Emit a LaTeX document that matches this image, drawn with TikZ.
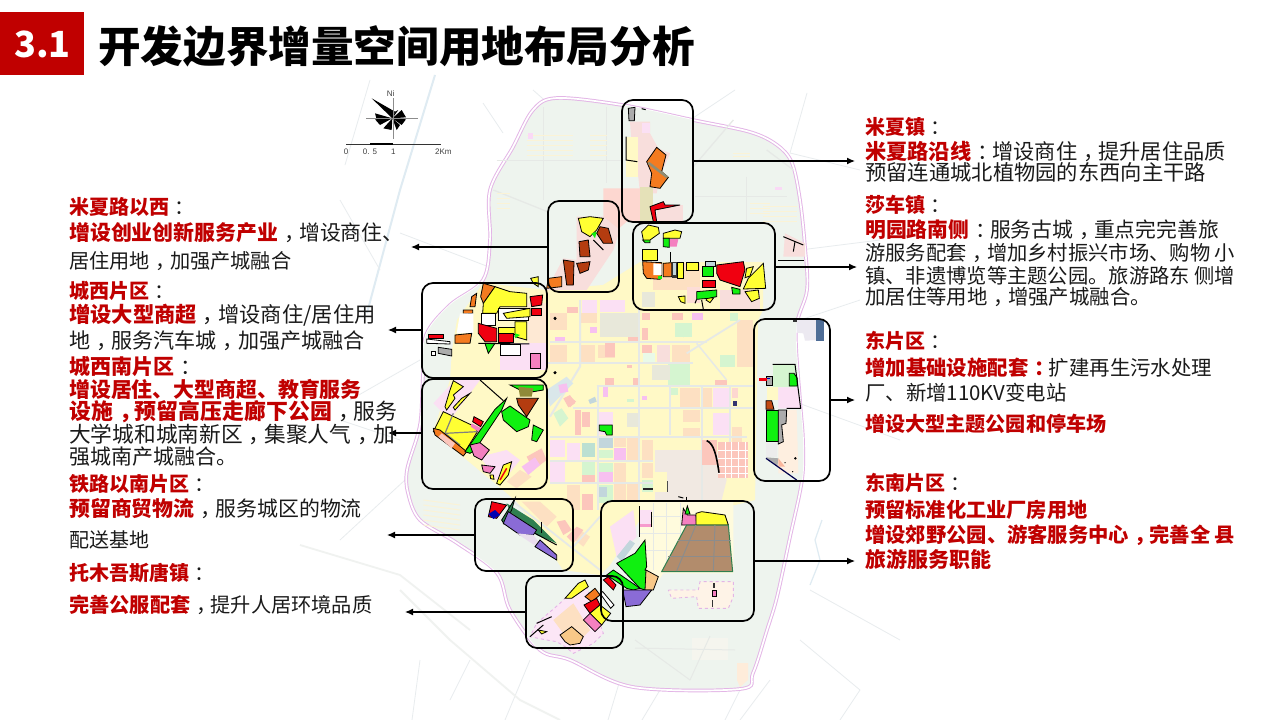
\documentclass[tikz,border=0pt]{standalone}
\usepackage{fontspec}
\setmainfont{Noto Sans CJK SC}
\newfontfamily\latinf{Liberation Sans}
\usetikzlibrary{arrows.meta}
\definecolor{hred}{HTML}{C00000}
\definecolor{txtc}{HTML}{1A1A1A}
\definecolor{land}{HTML}{EEF4EE}
\definecolor{base}{HTML}{FFF9C6}
\definecolor{road}{HTML}{E6E9E6}
\definecolor{faint}{HTML}{E8ECEE}
\definecolor{riv}{HTML}{DFEBF2}
\definecolor{bnd}{HTML}{E3B5E6}
\definecolor{py}{HTML}{FDE0C2}
\definecolor{sa}{HTML}{FCC6BC}
\definecolor{li}{HTML}{FBE0F4}
\definecolor{lt}{HTML}{F7C0F0}
\definecolor{mi}{HTML}{D5F5D0}
\definecolor{gy}{HTML}{E8E8DA}
\definecolor{te}{HTML}{BCE0D2}
\definecolor{bl}{HTML}{C2D6DC}
\definecolor{pal}{HTML}{F8DEDC}
\definecolor{be}{HTML}{F1E9E2}
\definecolor{vy}{HTML}{FFFF33}
\definecolor{vo}{HTML}{F47B20}
\definecolor{vb}{HTML}{B43C10}
\definecolor{vg}{HTML}{10F010}
\definecolor{vr}{HTML}{F00010}
\definecolor{vp}{HTML}{8A6BD6}
\definecolor{vk}{HTML}{F480C0}
\definecolor{br}{HTML}{B28C6C}
\definecolor{dg}{HTML}{2F7F50}
\definecolor{slate}{HTML}{4F6D96}
\definecolor{gr}{HTML}{ACACAC}
\definecolor{pc}{HTML}{F8C888}
\definecolor{cream}{HTML}{FBF3D6}
\tikzset{
 regbox/.style={draw=black,line width=1.7pt,rounded corners=11pt,inner sep=0pt},
 arr/.style={draw=black,line width=1.2pt,-{Latex[length=8pt,width=7pt]}},
 tline/.style={anchor=west,inner sep=0pt,text height=18pt,text depth=3pt,text=txtc,font=\fontsize{20.8}{24}\selectfont},
 fz/.style={font=\fontsize{#1}{24}\selectfont},
 scl/.style={inner sep=0pt,text=black!75,font=\latinf\fontsize{8}{9}\selectfont},
 fl/.style={draw=faint,line width=0.8pt},
}
\newcommand\rr[5]{\fill[#1] (#2,#3) rectangle (#4,#5);}
\newcommand\pp[2]{\fill[#1] plot coordinates {#2} -- cycle;}
\newcommand\pq[2]{\filldraw[fill=#1,draw=black,line width=0.8pt] plot coordinates {#2} -- cycle;}
\newcommand\bln[1]{\draw[black,line width=1pt] plot coordinates {#1};}
\newcommand\hdr[1]{\textcolor{hred}{\bfseries #1}}
\newcommand\cm{\makebox[1em][l]{\hspace{.28em}，}}
\newcommand\cl{\makebox[1em][l]{\hspace{.28em}：}}
\newcommand\bndpts{(557,98)(622,105)(693,120)(750,132)(777,145)(792,163)(800,200)(805,247)(807,290)(796,330)(800,400)(803,440)(802,480)(790,537)(777,597)(767,630)(753,673)(740,689)(633,687)(570,660)(540,650)(510,610)(497,573)(457,543)(420,520)(408,493)(407,470)(417,437)(421,417)(423,375)(426,335)(450,305)(483,280)(490,240)(490,190)(513,147)(533,110)}
\newcommand\basepts{(483,283)(547,290)(603,285)(640,262)(763,262)(763,310)(758,320)(755,500)(735,505)(650,505)(610,565)(600,575)(563,570)(517,502)(497,485)(433,432)(450,380)(452,350)(457,320)}
\begin{document}
\begin{tikzpicture}[x=1pt,y=-1pt]
\useasboundingbox (0,0) rectangle (1280,720);
\fill[white] (0,0) rectangle (1280,720);
% outer faint roads and rivers
\draw[riv,line width=2pt] (435,75)--(400,190)--(367,313);
\foreach \xa/\ya/\xb/\yb in {370/80/345/165,400/233/497/270,483/103/503/133,533/90/550/105,807/93/790/153,790/153/860/170,735/90/690/120,800/250/880/240,790/400/900/440,400/440/340/420,380/270/340/200,405/480/340/540,350/400/420/360,420/660/412/720,470/660/450/700,530/660/505/720,620/680/608/720,660/690/642/720,725/720/740/690,770/680/740/720,800/640/860/690,860/690/840/720,810/590/900/640,800/320/860/300}
  {\draw[fl] (\xa,\ya)--(\xb,\yb);}
\draw[road!60!white,line width=1.8pt] (400,590)--(450,640)--(520,700)--(560,720);
\draw[road!60!white,line width=1.8pt] (300,545)--(400,575)--(470,630);
\draw[riv,line width=1.2pt] (810,585)--(820,560)--(815,540)--(822,520);
% map boundary and land
\path[fill=land] plot[smooth cycle,tension=0.55] coordinates {\bndpts};
\draw[bnd,line width=3.6pt] plot[smooth cycle,tension=0.55] coordinates {\bndpts};
\draw[white,line width=1.7pt] plot[smooth cycle,tension=0.55] coordinates {\bndpts};
\fill[gy!45] (692,638) rectangle (728,660);
\pp{py!60}{(737,663)(748,663)(748,680)(740,687)(737,680)}
\draw[road,line width=1pt] (635,640)--(690,680);\draw[road,line width=1pt] (635,648)--(735,650);\draw[road,line width=1pt] (710,636)--(690,680);
% land texture, north
\begin{scope}[shift={(400,90)},scale=1/3]
\foreach \xa/\ya/\xb/\yb in {290/212/680/212,885/320/1160/320,1040/260/1040/500,430/50/430/330,620/50/620/280,280/300/480/380,880/230/1000/90,1100/180/1180/240}{\draw[road,line width=1.3pt] (\xa,\ya)--(\xb,\yb);}
\foreach \y in {135,150,165,180,195}{\draw[cream,line width=1pt] (570,\y)--(620,\y);\draw[cream,line width=1pt] (380,\y)--(520,\y);}
\foreach \y in {350,365,380,395}{\draw[cream,line width=1pt] (1090,\y)--(1190,\y);\draw[cream,line width=1pt] (290,\y-40)--(330,\y-40);}
\foreach \y in {190,200,210}{\draw[cream,line width=1pt] (1000,\y)--(1050,\y);}
\foreach \y in {280,295,310}{\draw[cream,line width=1pt] (1050,\y+60)--(1110,\y+60);}
\rr{lt!60}{385}{128}{400}{146}\rr{lt!60}{840}{240}{870}{260}\rr{lt!60}{1125}{290}{1145}{300}
\end{scope}
% land texture, south
\begin{scope}[shift={(400,370)},scale=1/3]
\foreach \y in {390,405,420,435,450,465}{\draw[cream,line width=1pt] (70,\y)--(180,\y+15);}
\foreach \y in {535,550,565,580}{\draw[cream,line width=1pt] (300,\y)--(400,\y+10);}
\end{scope}
% urban base
\fill[base] plot coordinates {\basepts} -- cycle;
\begin{scope}[shift={(540,300)},scale=1/3]
\pp{be}{(345,450)(530,450)(560,540)(545,600)(345,600)}
\rr{py}{30}{40}{80}{90}\rr{sa}{80}{20}{115}{40}\rr{li}{125}{0}{170}{40}\rr{li}{180}{0}{255}{35}
\rr{gy}{180}{40}{295}{110}\rr{py}{120}{40}{170}{70}\rr{lt}{150}{80}{170}{100}\rr{sa}{265}{110}{298}{130}
\rr{sa}{305}{85}{325}{120}\rr{sa}{305}{135}{335}{160}\rr{py}{395}{135}{450}{190}\rr{pal}{350}{135}{390}{190}
\rr{mi!50}{310}{160}{345}{190}\rr{mi}{385}{190}{450}{255}\rr{gy}{335}{195}{390}{240}\rr{mi}{405}{70}{455}{110}
\rr{py}{120}{135}{165}{185}\rr{py}{175}{135}{225}{175}\rr{sa}{195}{130}{225}{170}\rr{lt}{45}{110}{75}{130}
\rr{py}{30}{135}{80}{190}\rr{sa}{195}{235}{222}{255}\rr{sa}{260}{195}{275}{205}\rr{sa}{280}{235}{298}{255}
\rr{sa}{395}{40}{430}{60}\rr{sa}{305}{40}{330}{60}\rr{lt}{455}{40}{490}{60}\rr{mi}{570}{40}{595}{62}
\rr{py}{590}{60}{640}{200}\rr{mi}{540}{165}{585}{200}\rr{sa}{525}{240}{560}{258}
\rr{py}{420}{265}{480}{320}\rr{py}{488}{265}{515}{320}\rr{li}{520}{265}{570}{325}\rr{sa!70}{575}{265}{595}{295}
\rr{lt}{190}{262}{205}{290}\rr{mi}{390}{265}{415}{285}\rr{lt}{305}{288}{322}{300}\rr{mi}{262}{296}{282}{306}
\rr{sa}{105}{330}{122}{405}\rr{sa}{125}{335}{150}{380}\rr{li}{172}{335}{220}{405}\rr{gy}{262}{340}{298}{380}
\rr{py}{430}{330}{480}{365}\rr{py}{430}{385}{480}{410}\rr{li}{520}{340}{570}{405}\rr{py}{575}{380}{605}{440}
\rr{li}{30}{420}{75}{470}\rr{te}{125}{430}{165}{470}\rr{bl}{178}{415}{220}{445}\rr{mi}{178}{450}{218}{475}
\rr{lt}{222}{445}{258}{480}\rr{py}{222}{415}{258}{440}\rr{py}{262}{415}{298}{480}\rr{py}{305}{420}{340}{480}
\rr{py}{305}{490}{340}{535}\rr{mi}{125}{480}{165}{525}\rr{sa}{125}{525}{165}{545}\rr{mi}{172}{490}{218}{515}
\rr{lt}{172}{517}{218}{545}\rr{py}{222}{490}{258}{545}\rr{li}{80}{430}{120}{480}\rr{li}{30}{480}{75}{545}
\rr{sa}{125}{582}{160}{630}\rr{mi}{172}{555}{218}{610}\rr{bl}{178}{560}{200}{590}\rr{py}{222}{550}{258}{600}\rr{py}{262}{545}{295}{600}
\rr{mi}{305}{540}{340}{575}\rr{base}{345}{515}{380}{575}\rr{py}{80}{555}{120}{630}
\pp{bl}{(145,300)(165,290)(170,305)(150,312)}
\pp{lt}{(52,262)(68,252)(80,265)(64,278)}\pp{sa}{(75,300)(90,288)(108,305)(90,322)}\pp{mi}{(40,340)(65,325)(85,355)(60,380)}
\pp{mi}{(418,92)(445,72)(455,95)(430,112)}
\draw[road,line width=2pt] (120,0)--(120,200)--(30,350);
\foreach \x/\ya/\yb in {175/260/630,298/0/630,390/260/405,485/260/600,570/258/440}{\draw[road,line width=1.8pt] (\x,\ya)--(\x,\yb);}
\foreach \y/\xa/\xb in {125/30/500,190/20/460,258/170/640,325/100/640,410/30/620,482/30/340,548/30/340}{\draw[road,line width=1.8pt] (\xa,\y)--(\xb,\y);}
\draw[road,line width=1.8pt] (440,160)--(600,60);\draw[road,line width=1.5pt] (470,130)--(560,240);
\rr{sa}{485}{420}{530}{495}
\rr{sa}{535}{425}{625}{535}
\foreach \x in {555,575,595,615}{\draw[white,line width=1pt] (\x,425)--(\x,535);}
\foreach \y in {450,475,500,520}{\draw[white,line width=1pt] (535,\y)--(625,\y);}
\pq{vg}{(178,375)(217,375)(217,405)(200,405)(195,395)(178,392)}
\rr{black!85}{310}{565}{338}{571}\rr{black!70}{381}{542}{385}{575}
\rr{blue!30!black!80}{578}{302}{590}{318}
\draw[black,line width=1.6pt] (500,422) .. controls (522,430) and (530,470) .. (537,518);
\fill[black] (45,55) circle (5);\fill[black] (45,218) circle (5);
\end{scope}
% repaint the ground inside the region frames
\foreach \xa/\ya/\xb/\yb in {622/100/693/222,548/201/619/292,633/223/775/310,422/283/547/378,422/379/547/489,754/319/830/481,475/499/573/571,601/501/754/621,526/576/623/648}{
\begin{scope}
\clip[rounded corners=11pt] (\xa,\ya) rectangle (\xb,\yb);
\fill[land] plot[smooth cycle,tension=0.55] coordinates {\bndpts};
\fill[base] plot coordinates {\basepts} -- cycle;
\end{scope}}
% northern zoom
\begin{scope}[shift={(400,90)},scale=1/3]
\pp{pal}{(690,95)(750,95)(750,130)(775,175)(810,190)(780,260)(770,310)(720,310)(715,260)(700,240)}
\rr{li}{725}{100}{750}{130}
\rr{base}{678}{140}{715}{260}
\pp{sa!70}{(610,295)(720,295)(720,395)(680,395)(640,430)(610,385)}
\rr{base!80!gray}{720}{290}{760}{395}
\rr{pal}{770}{345}{850}{395}
\pp{pal}{(530,380)(610,380)(660,420)(640,480)(560,600)(440,600)(490,505)(530,510)}
\rr{gy}{725}{605}{765}{650}
\rr{py}{760}{520}{900}{600}\rr{sa!60}{860}{590}{900}{640}\rr{pal}{960}{600}{1080}{660}
\pp{pal}{(1155,430)(1215,460)(1215,500)(1150,500)}
% A
\pq{gr}{(685,55)(705,52)(703,92)(687,92)}
\bln{(678,140)(678,210)(712,215)}\bln{(725,56)(737,59)}
\pq{vo}{(740,215)(770,172)(798,195)(785,245)(805,262)(780,295)(750,290)(755,250)}
\draw[gray!80!olive,line width=2.5pt] (745,218)--(802,262);
\pq{vr}{(750,350)(790,335)(795,345)(840,345)(790,355)(765,360)(770,395)(760,395)}
% B
\pq{vy}{(535,385)(570,380)(610,385)(590,420)(570,440)(545,425)}
\pq{vb}{(600,410)(625,415)(638,460)(610,460)(590,430)}
\pq{vb}{(537,455)(565,450)(570,500)(540,500)}
\pq{vb}{(530,520)(570,515)(565,540)(540,550)}
\pq{vb}{(490,510)(522,515)(520,585)(500,585)}
\pq{vo}{(445,565)(485,560)(485,590)(440,595)}
\pp{vg}{(575,430)(590,425)(585,445)}
\bln{(580,450)(610,480)}
% C
\pq{vg}{(728,450)(750,445)(750,458)(735,458)}
\pq{vy}{(725,425)(745,405)(775,412)(778,430)(750,450)(730,450)}
\pq{vy}{(790,430)(825,420)(845,425)(840,445)(790,445)}
\pq{vg}{(790,445)(808,445)(808,472)(790,470)}
\pp{vk}{(810,447)(835,447)(830,470)(810,470)}
\pq{vy}{(728,478)(772,478)(772,512)(728,512)}
\pq{vo}{(728,515)(785,518)(785,555)(780,568)(740,565)(730,550)}
\pp{white}{(760,520)(785,522)(785,555)(760,555)}
\pp{vg}{(775,558)(785,558)(785,568)(775,568)}
\pq{vo}{(790,520)(815,518)(815,560)(790,560)}
\rr{black!80}{815}{515}{832}{565}\rr{bl}{820}{520}{827}{555}
\pq{vy}{(832,518)(850,518)(850,565)(832,565)}
\pq{vy}{(860,518)(895,518)(895,540)(860,540)}
\pq{bl}{(915,515)(945,515)(945,530)(915,530)}
\pq{vg}{(908,530)(940,530)(940,560)(908,560)}
\pq{vr}{(950,525)(1030,515)(1035,540)(1020,590)(960,570)(950,550)}
\pq{vy}{(1090,520)(1097,595)(1030,597)(1045,565)}
\pq{vy}{(1040,535)(1060,530)(1050,558)(1035,563)}
\pq{vy}{(1035,605)(1075,600)(1078,625)(1055,635)}
\pq{vr}{(908,570)(945,570)(945,592)(908,592)}
\pq{vy}{(925,620)(940,625)(930,638)(918,630)}
\pq{vg}{(890,605)(950,600)(950,620)(925,625)(890,628)}
\pq{vg}{(995,592)(1020,598)(1020,612)(998,612)}
\pq{vy}{(835,620)(855,618)(855,640)(842,635)}
\bln{(890,628)(885,640)}\bln{(905,630)(910,658)}\bln{(810,487)(810,515)}
\bln{(1150,440)(1210,465)}\bln{(1185,455)(1180,485)}\bln{(1135,510)(1212,510)}
% D
\pp{li}{(300,760)(440,760)(440,840)(300,840)}
\rr{py!70}{385}{640}{440}{760}
\pq{vo}{(250,580)(285,590)(250,640)(242,620)}
\pq{vy}{(285,590)(330,605)(380,610)(380,650)(300,650)(290,670)(248,670)(250,640)}
\pq{white}{(295,655)(385,655)(385,690)(295,690)}
\pq{vy}{(310,670)(390,655)(390,680)(320,685)}
\pq{vr}{(390,620)(428,615)(425,645)(395,650)}
\pq{vr}{(395,655)(425,655)(425,675)(395,675)}
\pq{white}{(245,670)(285,670)(285,705)(245,705)}
\pq{vy}{(295,712)(345,712)(345,732)(295,732)}
\pq{vy}{(345,695)(380,695)(380,750)(345,740)}
\pq{vr}{(235,700)(290,715)(290,755)(255,755)(235,730)}
\pq{vr}{(295,730)(340,730)(340,758)(295,758)}
\pp{vg}{(345,730)(360,735)(345,745)}
\pq{vg}{(255,760)(285,760)(265,790)}
\pq{white}{(300,762)(360,762)(360,795)(300,795)}
\bln{(235,760)(388,762)}
\pq{vk}{(390,790)(420,790)(420,835)(390,835)}
\pq{vo}{(215,620)(230,610)(225,650)(210,650)}
\pq{vo}{(190,660)(218,660)(218,670)(190,672)}
\pp{white}{(180,670)(220,670)(220,730)(170,730)}
\pq{vo}{(165,735)(215,730)(210,760)(165,760)}
\pq{vr}{(85,733)(130,733)(130,745)(85,745)}
\pq{white}{(80,747)(150,755)(150,762)(80,760)}
\pq{gr}{(115,772)(155,778)(155,798)(115,790)}
\pq{white}{(95,785)(105,785)(105,795)(95,795)}
\pq{vy}{(392,565)(415,560)(415,590)(400,580)}
\fill[black] (465,687) circle (3);
\end{scope}
% southern zoom
\begin{scope}[shift={(400,370)},scale=1/3]
\pp{li}{(165,30)(240,30)(150,150)(100,100)}
\pp{li}{(240,260)(320,240)(360,270)(300,345)}
\pp{sa}{(380,260)(425,235)(440,270)(400,300)}
\pp{lt}{(365,290)(405,262)(420,285)(385,315)}
\pp{py}{(320,335)(360,300)(395,320)(350,355)}
\pp{bl!60}{(440,60)(500,20)(520,40)(450,110)}
\pp{sa}{(490,85)(510,75)(525,100)(505,112)}
\pp{lt}{(475,45)(500,40)(505,65)(480,70)}
\pp{sa}{(470,455)(495,450)(515,480)(490,495)}
\pp{py}{(365,395)(420,395)(470,440)(440,470)}
\pp{py}{(540,480)(570,500)(550,530)(525,510)}
\pp{sa}{(500,500)(530,470)(550,480)(520,520)}
\pp{li}{(630,470)(700,420)(710,500)(650,560)}
\pp{bl}{(650,560)(690,510)(705,520)(665,575)}
\draw[road,line width=1.8pt] (340,395)--(600,600);\draw[road,line width=1.8pt] (520,530)--(600,440);
\pp{base!60}{(720,510)(720,395)(1000,395)(1000,610)(790,610)(770,640)(735,660)(720,620)}
\foreach \x in {760,800,840}{\draw[road,line width=1pt] (\x,400)--(\x,600);}
\foreach \y in {440,490,540}{\draw[road,line width=1pt] (720,\y)--(860,\y);}
% E
\pq{vy}{(150,60)(160,32)(190,50)(160,75)(165,85)(140,120)(135,110)}
\pq{vy}{(185,85)(210,70)(165,120)(160,112)}
\bln{(240,30)(310,92)}
\pq{vy}{(130,125)(225,170)(232,185)(195,245)(100,185)}
\draw[gray,line width=1.2pt] (160,130)--(135,190)--(180,225);\draw[gray,line width=1.2pt] (135,190)--(232,185);
\pq{vo}{(100,175)(120,180)(200,245)(190,258)(105,195)}
\pp{sa}{(125,190)(165,220)(155,235)(115,200)}
\pq{vr}{(222,140)(250,155)(242,170)(218,155)}
\pp{vk}{(215,160)(245,175)(235,185)(212,170)}
\pq{vg}{(195,245)(285,118)(310,95)(320,85)(305,120)(225,240)(210,250)}
\pq{vk}{(210,225)(240,218)(268,240)(245,270)(222,258)}
\pq{vk}{(245,285)(285,290)(270,310)(250,305)}
\pq{vy}{(270,315)(280,315)(282,328)(272,326)}
\pq{vy}{(290,340)(310,285)(335,275)(325,315)(300,345)}
\draw[vr,line width=1.5pt] (300,330)--(320,295);
\pq{vg}{(330,45)(430,45)(430,60)(400,65)(360,60)}
\pp{olive!60!gray}{(355,50)(400,55)(395,80)(360,80)}
\pq{vb}{(350,85)(415,85)(380,140)(355,105)}
\pq{vg}{(305,125)(330,108)(390,150)(385,170)(350,185)(310,150)}
\pq{vg}{(400,165)(430,180)(410,215)(395,210)}
\fill[black] (464,8) circle (3);
% G
\pq{vr}{(275,395)(320,405)(290,445)(265,440)}
\pp{blue!70!black}{(265,432)(285,420)(300,435)(280,447)}
\pp{dg}{(320,400)(400,450)(470,520)(410,495)(330,425)}
\pq{dg}{(345,385)(335,420)(312,462)(305,450)(330,410)}
\pq{vp}{(325,425)(410,480)(400,495)(360,495)(310,460)}
\pp{li!70!bl}{(350,490)(400,495)(430,535)(410,530)}
\pq{vp}{(420,510)(470,555)(470,570)(405,530)}
\bln{(405,490)(470,525)}\bln{(425,455)(425,490)}
% H
\pq{vk}{(850,415)(845,465)(890,465)(888,435)(862,435)}
\pq{vg}{(855,432)(862,408)(870,432)}
\pq{vy}{(888,430)(905,425)(940,430)(975,435)(985,465)(888,465)}
\filldraw[fill=br,draw=dg,line width=1pt] plot coordinates {(860,465)(985,465)(998,605)(785,605)} -- cycle;
\foreach \xa/\ya/\xb/\yb in {835/510/992/510,805/560/996/560,888/465/830/603,945/465/940/603}{\draw[gray!90,line width=1pt] (\xa,\ya)--(\xb,\yb);}
\pq{vg}{(650,580)(705,550)(735,510)(740,590)(735,600)(770,620)(735,660)(720,655)}
\pq{pc}{(738,600)(775,620)(760,660)(735,660)}
\pq{vg}{(620,615)(640,600)(720,655)(700,660)(680,655)}
\pq{vr}{(610,630)(625,620)(648,645)(640,660)}
\pq{vp}{(668,660)(755,660)(720,705)(678,710)}
\rr{li}{720}{420}{757}{470}\rr{vk!80}{720}{462}{755}{470}
\bln{(719,408)(719,500)}\bln{(755,425)(755,470)}
\bln{(835,380)(850,384)}\bln{(860,380)(860,395)}
\draw[bnd,dashed,line width=0.9pt,fill=py!40] plot coordinates {(805,660)(895,660)(900,635)(1000,635)(1000,680)(985,715)(895,715)(890,680)(815,685)} -- cycle;
\pq{vk}{(938,660)(950,660)(950,680)(938,680)}\rr{black!80}{938}{640}{946}{655}\rr{black!80}{935}{690}{940}{712}
% I
\draw[bnd,dashed,line width=0.9pt,fill=li!80] plot coordinates {(410,760)(480,700)(540,640)(560,650)(610,790)(580,820)(520,850)(495,830)(470,815)(440,810)(390,800)} -- cycle;
\pp{py}{(460,750)(520,700)(570,780)(520,830)}
\pq{vy}{(495,685)(535,640)(555,630)(565,650)(515,685)}
\pq{vo}{(555,680)(585,655)(600,675)(575,695)}
\pq{white}{(600,670)(608,665)(642,705)(632,715)}
\pq{vr}{(552,705)(590,685)(600,705)(570,730)}
\pq{vy}{(570,730)(600,705)(632,730)(605,765)}
\pq{vk}{(550,750)(570,730)(605,765)(585,785)}
\pq{pc}{(480,795)(515,770)(550,800)(540,820)(510,825)(495,815)}
\bln{(410,760)(455,740)}\bln{(390,800)(430,765)}
\pq{vy}{(415,780)(440,785)(425,792)}
\end{scope}
% F
\begin{scope}[shift={(750,310)},scale=1/3]
\pp{li!50!bl!60}{(140,30)(220,30)(220,90)(165,92)(160,70)(140,68)}
\filldraw[fill=slate,draw=slate] (198,28) rectangle (220,92);
\fill[black!80] (128,26) rectangle (140,36);
\rr{mi}{68}{163}{135}{230}
\pq{vg}{(118,190)(132,190)(142,205)(142,228)(118,228)}
\rr{base}{50}{232}{85}{270}
\pp{li}{(85,232)(143,232)(152,295)(85,295)}
\bln{(68,163)(135,163)(152,295)(110,295)}
\pq{gr}{(48,200)(68,200)(68,225)(48,225)}
\pp{vr}{(28,203)(50,203)(50,213)(28,213)}\pp{blue!70!black}{(50,203)(60,203)(60,208)(50,208)}
\pp{py!50}{(85,300)(140,300)(145,490)(85,490)}
\pq{vb!80!vo}{(48,272)(65,272)(72,298)(48,298)}
\pq{vg}{(48,300)(85,300)(85,395)(48,395)}
\pq{gr}{(85,300)(110,300)(108,340)(95,345)(100,395)(85,402)}
\rr{white!85!gray}{48}{398}{82}{440}
\pp{gr}{(48,442)(85,445)(82,470)}
\pp{sa!80!vo}{(85,445)(105,470)(85,470)}
\draw[black!70!blue,line width=1.2pt] (48,445)--(140,510);
\fill[black] (136,445) circle (4);\fill[black] (105,458) circle (2);\fill[black] (128,485) circle (2);
\end{scope}
% compass and scale
\begin{scope}[shift={(330,80)},scale=1/3]
\coordinate (ctr) at (187,115);
\foreach \xa/\ya/\xb/\yb in {125/55/195/95,135/100/140/118,215/90/228/112,228/118/215/135,185/150/160/145,200/150/210/135,195/95/205/90,150/135/135/118}{\fill[black] (ctr)--(\xa,\ya)--(\xb,\yb)--cycle;}
\draw[black!45,line width=0.5pt] (108,115)--(265,115);\draw[black!45,line width=0.5pt] (190,55)--(190,178);
\draw[black!80,line width=0.9pt] (48,193)--(332,193);
\draw[black,line width=1.5pt] (120,192)--(190,192);
\node[scl] (nn) at (182,40) {Ni};
\node[scl] (s0) at (48,216) {0};
\node[scl] (s5) at (120,216) {0. 5};
\node[scl] (s1) at (190,216) {1};
\node[scl] (s2) at (340,216) {2Km};
\end{scope}
% region boxes
\node[regbox,minimum width=71pt,minimum height=122pt] (ra) at (657.5,161) {};
\node[regbox,minimum width=71pt,minimum height=91pt] (rb) at (583.5,246.5) {};
\node[regbox,minimum width=142pt,minimum height=87pt] (rc) at (704,266.5) {};
\node[regbox,minimum width=125pt,minimum height=95pt] (rd) at (484.5,330.5) {};
\node[regbox,minimum width=125pt,minimum height=110pt] (re) at (484.5,434) {};
\node[regbox,minimum width=76pt,minimum height=162pt] (rf) at (792,400) {};
\node[regbox,minimum width=98pt,minimum height=72pt] (rg) at (524,535) {};
\node[regbox,minimum width=153pt,minimum height=120pt] (rh) at (677.5,561) {};
\node[regbox,minimum width=97pt,minimum height=72pt] (ri) at (574.5,612) {};
% arrows
\coordinate (ea) at (855,161);
\coordinate (eb) at (411,247);
\coordinate (ec) at (857,267);
\coordinate (ed) at (388,330);
\coordinate (ee) at (388,433);
\coordinate (ef) at (855,400);
\coordinate (eg) at (387,535);
\coordinate (eh) at (855,561);
\coordinate (ei) at (405,612);
\draw[arr] (ra.east |- ea) -- (ea);
\draw[arr] (rb.west |- eb) -- (eb);
\draw[arr] (rc.east |- ec) -- (ec);
\draw[arr] (rd.west |- ed) -- (ed);
\draw[arr] (re.west |- ee) -- (ee);
\draw[arr] (rf.east |- ef) -- (ef);
\draw[arr] (rg.west |- eg) -- (eg);
\draw[arr] (rh.east |- eh) -- (eh);
\draw[arr] (ri.west |- ei) -- (ei);
% header
\fill[hred] (0,11.5) rectangle (83.5,75);
\node[inner sep=0pt,text=white,font=\bfseries\fontsize{36}{44}\selectfont] (num) at (42.5,44) {3.1};
\node[anchor=west,inner sep=0pt,text=black,font=\bfseries\fontsize{42.6}{50}\selectfont] (title) at (98,46) {开发边界增量空间用地布局分析};
% left text
\node[tline,fz=20] (l1) at (69,207) {\hdr{米夏路以西}\cl};
\node[tline,fz=20.9] (l2) at (69,233) {\hdr{增设创业创新服务产业}\cm 增设商住、};
\node[tline,fz=20.2] (l3) at (69,261) {居住用地\cm 加强产城融合};
\node[tline,fz=20] (l4) at (69,291) {\hdr{城西片区}\cl};
\node[tline,fz=21.3] (l5) at (69,315) {\hdr{增设大型商超}\cm 增设商住/居住用};
\node[tline,fz=21.1] (l6) at (69,341) {地\cm 服务汽车城\cm 加强产城融合};
\node[tline,fz=21] (l7) at (69,367) {\hdr{城西南片区}\cl};
\node[tline,fz=20.9] (l8) at (69,390) {\hdr{增设居住、大型商超、教育服务}};
\node[tline,fz=21.9] (l9) at (69,412) {\hdr{设施\cm 预留高压走廊下公园}\cm 服务};
\node[tline,fz=21.7] (l10) at (69,435) {大学城和城南新区\cm 集聚人气\cm 加};
\node[tline,fz=21] (l11) at (69,457) {强城南产城融合。};
\node[tline,fz=20] (l12) at (69,484) {\hdr{铁路以南片区}\cl};
\node[tline,fz=20.9] (l13) at (69,509) {\hdr{预留商贸物流}\cm 服务城区的物流};
\node[tline,fz=20] (l14) at (69,540) {配送基地};
\node[tline,fz=20] (l15) at (69,573) {\hdr{托木吾斯唐镇}\cl};
\node[tline,fz=20.2] (l16) at (69,605) {\hdr{完善公服配套}\cm 提升人居环境品质};
% right text
\node[tline,fz=20] (r1) at (865,127) {\hdr{米夏镇}\cl};
\node[tline,fz=21.2] (r2) at (865,152) {\hdr{米夏路沿线}\cl 增设商住\cm 提升居住品质};
\node[tline,fz=21.3] (r3) at (865,173) {预留连通城北植物园的东西向主干路};
\node[tline,fz=20] (r4) at (865,205) {\hdr{莎车镇}\cl};
\node[tline,fz=20.8] (r5) at (865,230) {\hdr{明园路南侧}\cl 服务古城\cm 重点完完善旅};
\node[tline,fz=20.3] (r6) at (865,253) {游服务配套\cm 增加乡村振兴市场、购物 小};
\node[tline,fz=20.3] (r7) at (865,276) {镇、非遗博览等主题公园。旅游路东 侧增};
\node[tline,fz=20.4] (r8) at (865,297) {加居住等用地\cm 增强产城融合。};
\node[tline,fz=20] (r9) at (865,341) {\hdr{东片区}\cl};
\node[tline,fz=20.4] (r10) at (865,368) {\hdr{增加基础设施配套\cl}扩建再生污水处理};
\node[tline,fz=20.4] (r11) at (865,393) {厂、新增110KV变电站};
\node[tline,fz=20.1] (r12) at (865,424) {\hdr{增设大型主题公园和停车场}};
\node[tline,fz=20] (r13) at (865,483) {\hdr{东南片区}\cl};
\node[tline,fz=20.2] (r14) at (865,510) {\hdr{预留标准化工业厂房用地}};
\node[tline,fz=20.3] (r15) at (865,535) {\hdr{增设郊野公园、游客服务中心\cm 完善全 县}};
\node[tline,fz=21] (r16) at (865,560) {\hdr{旅游服务职能}};
\end{tikzpicture}
\end{document}
